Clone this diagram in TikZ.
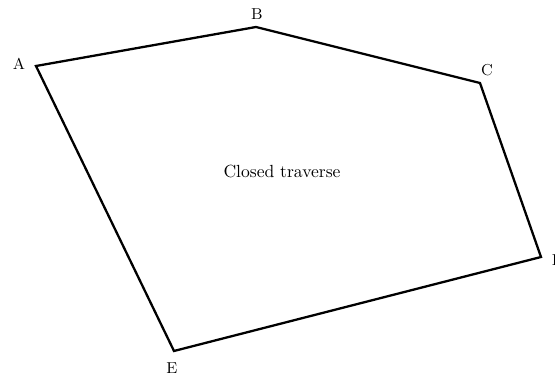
\documentclass[tikz,border=0pt]{standalone}
\usepackage{tikz}
\usetikzlibrary{positioning, calc}

\begin{document}
\begin{tikzpicture}
            \tikzstyle{station} = [inner sep=0pt, font=\small]
            \tikzstyle{leg} = [line width=1.3pt, black, line join=miter]
            \useasboundingbox (0,0) rectangle (11.1,7.62);

            \coordinate (A) at (0.72,6.30);
            \coordinate (B) at (5.12,7.08);
            \coordinate (C) at (9.60,5.96);
            \coordinate (D) at (10.82,2.48);
            \coordinate (E) at (3.48,0.60);

            \node[station] (lA) at (0.38,6.34) {A};
            \node[station] (lB) at (5.14,7.34) {B};
            \node[station] (lC) at (9.74,6.22) {C};
            \node[station] (lD) at (11.16,2.42) {D};
            \node[station] (lE) at (3.44,0.26) {E};

            \node (title) at (5.64,4.18) {Closed traverse};

            \draw[leg] (A) -- (B) -- (C) -- (D) -- (E) -- cycle;
        \end{tikzpicture}
\end{document}
